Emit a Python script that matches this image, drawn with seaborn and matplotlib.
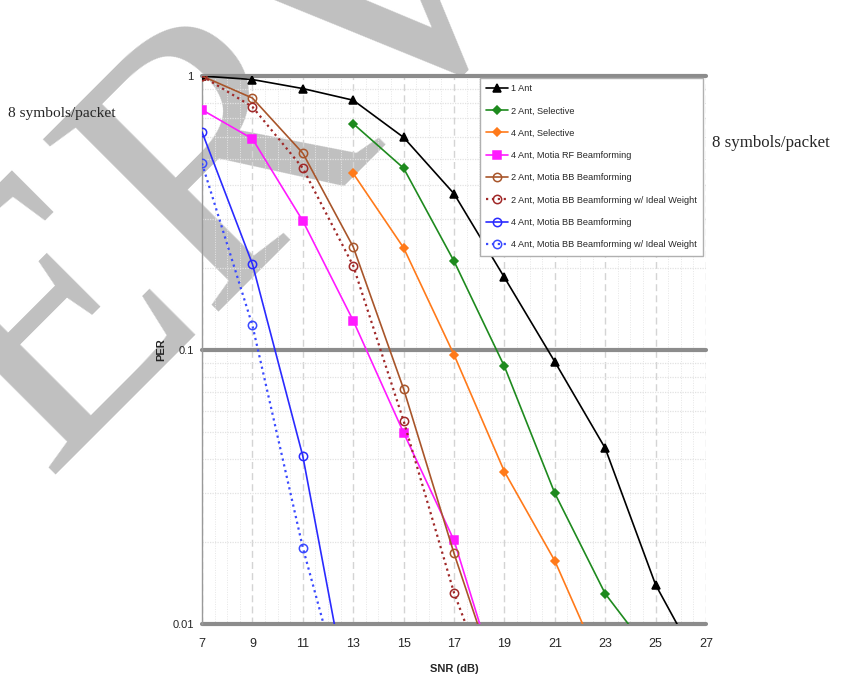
import matplotlib
matplotlib.use("Agg")
import matplotlib.pyplot as plt
from matplotlib.ticker import MultipleLocator, FixedLocator, NullFormatter
import seaborn as sns
import pandas as pd

# ---------------- data ----------------
snr_ant1 = [7, 9, 11, 13, 15, 17, 19, 21, 23, 25, 27]
per_ant1 = [1.0, 0.971, 0.900, 0.816, 0.597, 0.372, 0.184, 0.0906, 0.0438, 0.0139, 0.0064]

snr_sel2 = [13, 15, 17, 19, 21, 23, 25]
per_sel2 = [0.670, 0.461, 0.211, 0.0871, 0.0300, 0.0129, 0.0074]

snr_sel4 = [13, 15, 17, 19, 21, 23]
per_sel4 = [0.441, 0.236, 0.0961, 0.0360, 0.0170, 0.0065]

snr_rf4 = [7, 9, 11, 13, 15, 17, 19]
per_rf4 = [0.753, 0.590, 0.296, 0.128, 0.0499, 0.0202, 0.0051]

snr_bb2 = [7, 9, 11, 13, 15, 17, 19]
per_bb2 = [1.0, 0.831, 0.523, 0.238, 0.0721, 0.0181, 0.0051]

snr_bb2i = [7, 9, 11, 13, 15, 17, 19]
per_bb2i = [1.0, 0.772, 0.461, 0.203, 0.0551, 0.0130, 0.0042]

snr_bb4 = [7, 9, 11, 13]
per_bb4 = [0.625, 0.206, 0.0410, 0.0043]

snr_bb4i = [7, 9, 11, 13]
per_bb4i = [0.480, 0.123, 0.0190, 0.0040]

labels = ["1 Ant", "2 Ant, Selective", "4 Ant, Selective", "4 Ant, Motia RF Beamforming",
          "2 Ant, Motia BB Beamforming", "2 Ant, Motia BB Beamforming w/ Ideal Weight",
          "4 Ant, Motia BB Beamforming", "4 Ant, Motia BB Beamforming w/ Ideal Weight"]

x_ticks = [7, 9, 11, 13, 15, 17, 19, 21, 23, 25, 27]
y_ticks = [0.01, 0.1, 1]
y_tick_labels = ["0.01", "0.1", "1"]

# ---------------- style ----------------
sns.set_style("white")
narrow = ["Liberation Sans Narrow", "Liberation Sans", "DejaVu Sans"]
plt.rcParams["font.family"] = narrow

fig = plt.figure(figsize=(8.41, 6.77), dpi=100)
ax = fig.add_axes([0.2402, 0.0783, 0.5993, 0.8094])
ax.set_facecolor("none")
ax.set_zorder(1)

series = [
    (snr_ant1, per_ant1, "#000000", "^", "-", True, 6),
    (snr_sel2, per_sel2, "#1e8a1e", "D", "-", True, 4.5),
    (snr_sel4, per_sel4, "#ff7a1a", "D", "-", True, 4.5),
    (snr_rf4, per_rf4, "#ff1aff", "s", "-", True, 6),
    (snr_bb2, per_bb2, "#a8552a", "o", "-", False, 6),
    (snr_bb2i, per_bb2i, "#a02828", "o", ":", False, 6),
    (snr_bb4, per_bb4, "#2a2aff", "o", "-", False, 6),
    (snr_bb4i, per_bb4i, "#3a4aff", "o", ":", False, 6),
]

for (xs, ys, col, mk, ls, filled, ms), lab in zip(series, labels):
    df = pd.DataFrame({"SNR": xs, "PER": ys})
    sns.lineplot(data=df, x="SNR", y="PER", ax=ax, color=col, marker=mk,
                 linestyle=ls, linewidth=1.2 if ls == "-" else 1.6,
                 markersize=ms, markeredgecolor=col,
                 markerfacecolor=col if filled else "none",
                 markeredgewidth=1.1, label=lab, zorder=3)

ax.set_yscale("log")
ax.set_xlim(7, 27)
ax.set_ylim(0.01, 1)

ax.set_xticks(x_ticks)
ax.set_xticklabels([str(v) for v in x_ticks])
ax.xaxis.set_minor_locator(MultipleLocator(0.5))
ax.yaxis.set_major_locator(FixedLocator(y_ticks))
ax.set_yticklabels(y_tick_labels)
ax.yaxis.set_minor_locator(FixedLocator([k * 0.01 for k in range(2, 10)] + [k * 0.1 for k in range(2, 10)]))
ax.yaxis.set_minor_formatter(NullFormatter())

ax.set_axisbelow(True)
ax.xaxis.grid(True, which="major", color="#d4d4d4", linestyle=(0, (5, 3)), linewidth=1.0)
ax.xaxis.grid(True, which="minor", color="#e6e6e6", linestyle=(0, (1, 1.5)), linewidth=0.7)
ax.yaxis.grid(True, which="major", color="#8c8c8c", linestyle="-", linewidth=3.0)
ax.yaxis.grid(True, which="minor", color="#e2e2e2", linestyle=(0, (1, 1)), linewidth=0.9)
for gl in ax.get_ygridlines():
    gl.set_clip_on(False)

for s in ["top", "right", "bottom"]:
    ax.spines[s].set_visible(False)
ax.spines["left"].set_color("#999999")
ax.spines["left"].set_linewidth(1.0)

ax.tick_params(axis="both", which="major", length=4, width=0.8, color="#666666", direction="out")
ax.tick_params(axis="both", which="minor", length=0)
ax.tick_params(axis="x", labelsize=9, pad=6)
ax.tick_params(axis="y", labelsize=8, pad=2)

ax.set_xlabel("SNR (dB)", fontsize=8, fontweight="bold", labelpad=10)
ax.set_ylabel("PER", fontsize=8, fontweight="bold", labelpad=4)

leg = ax.legend(loc="upper right", bbox_to_anchor=(0.995, 0.997),
                frameon=True, fancybox=False, edgecolor="#b0b0b0", framealpha=1,
                handlelength=2.4, labelspacing=1.45, borderpad=0.7, handletextpad=0.3,
                borderaxespad=0.0, prop={"size": 6.6})
leg.get_frame().set_linewidth(1.0)
leg.set_zorder(5)

# watermark (behind the transparent axes)
fig.text(0.281, 0.768, "ERV", rotation=45, rotation_mode="anchor",
         ha="center", va="center", fontsize=270,
         family=["Liberation Serif", "DejaVu Serif"], color="#c0c0c0", zorder=-5)

serif = ["Liberation Serif", "DejaVu Serif"]
fig.text(0.01, 0.833, "8 symbols/packet", fontsize=11.1, family=serif, ha="left", va="center")
fig.text(0.847, 0.789, "8 symbols/packet", fontsize=12.2, family=serif, ha="left", va="center")

fig.savefig("out.png", dpi=100)
